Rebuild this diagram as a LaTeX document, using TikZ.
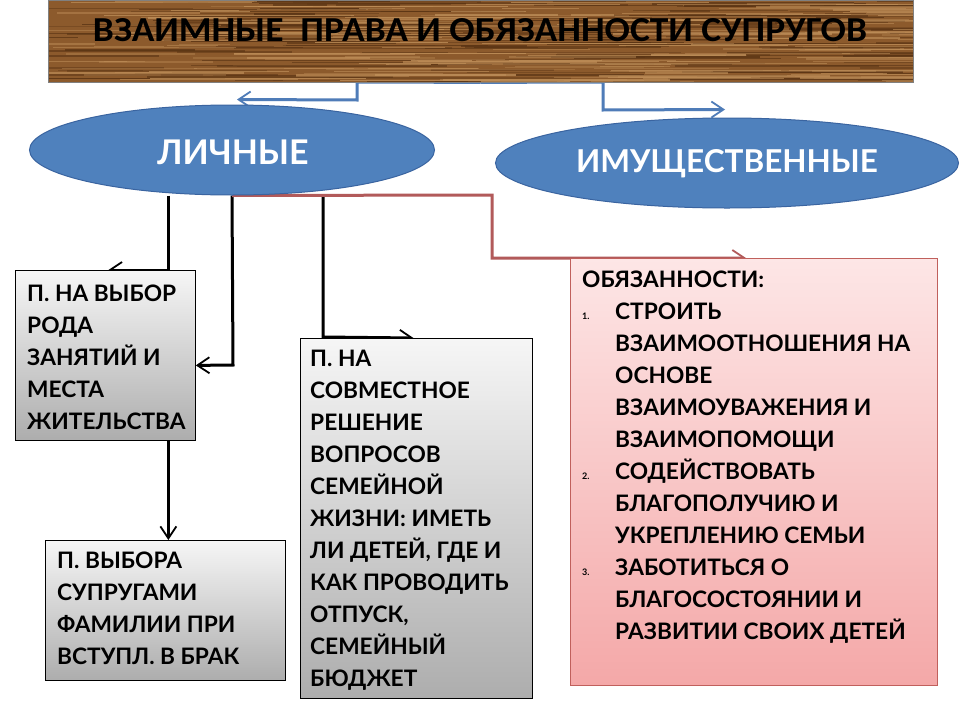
\documentclass[tikz,border=0pt]{standalone}
\usepackage{fontspec}
\setmainfont{Lato}
\usetikzlibrary{arrows.meta,shapes.geometric,calc}
\pgfdeclarelayer{bg}
\pgfsetlayers{bg,main}
\definecolor{woodbase}{HTML}{8C5A2C}
\definecolor{wooddark}{HTML}{5A3414}
\definecolor{woodlight}{HTML}{C0905A}
\definecolor{ellfill}{HTML}{4F81BD}
\definecolor{elldraw}{HTML}{3A64A0}
\definecolor{blueln}{HTML}{4F7CB8}
\definecolor{redln}{HTML}{B25A5A}
\definecolor{pinktop}{HTML}{FDE6E6}
\definecolor{pinkbot}{HTML}{F4A8A8}
\definecolor{pinkdraw}{HTML}{C0605C}
\definecolor{graytop}{HTML}{F6F6F6}
\definecolor{graybot}{HTML}{ADADAD}
\tikzset{
  boxfont/.style={font=\fontsize{22.7}{32}\selectfont\bfseries},
  graybox/.style={draw=black, line width=0.8pt, top color=graytop, bottom color=graybot, anchor=north west, inner sep=0pt},
  pinkbox/.style={draw=pinkdraw, line width=0.8pt, top color=pinktop, bottom color=pinkbot, anchor=north west, inner sep=0pt},
  boxtext/.style={boxfont, anchor=north west, inner sep=0pt, align=left},
  ell/.style={ellipse, fill=ellfill, draw=elldraw, line width=1pt, inner sep=0pt},
  elltext/.style={text=white, inner sep=0pt},
  tip/.style={-{Straight Barb[length=12pt,width=16pt,line width=1.8pt]}},
  blk/.style={draw=black, line width=3pt, tip},
  blu/.style={draw=blueln, line width=3pt, tip},
  rdl/.style={draw=redln, line width=3pt, tip}
}
\newcommand{\strt}{\rule{0pt}{21pt}}
\newcommand{\num}[1]{\makebox[33pt][l]{\fontsize{9}{9}\selectfont #1}}
\begin{document}
\begin{tikzpicture}[x=1pt,y=-1pt]
\useasboundingbox (0,0) rectangle (960,720);
\begin{pgfonlayer}{bg}
\fill[white] (0,0) rectangle (960,720);
\end{pgfonlayer}

% title banner
\node[draw=none, fill=woodbase, minimum width=865pt, minimum height=82pt, inner sep=0pt, anchor=north west] (title) at (48,0) {};
\begin{scope}
\clip (48,0) rectangle (913,82);
\pgfmathsetseed{11}
\foreach \i in {1,...,200}{
  \pgfmathsetmacro\yy{rnd*82}
  \pgfmathsetmacro\xx{20+rnd*880}
  \pgfmathsetmacro\ll{40+rnd*220}
  \pgfmathsetmacro\ww{0.5+rnd*1.6}
  \pgfmathsetmacro\oo{0.35+rnd*0.5}
  \draw[wooddark, line width=\ww pt, opacity=\oo] (\xx,\yy) -- ++(\ll,0);
}
\foreach \i in {1,...,180}{
  \pgfmathsetmacro\yy{rnd*82}
  \pgfmathsetmacro\xx{20+rnd*880}
  \pgfmathsetmacro\ll{40+rnd*220}
  \pgfmathsetmacro\ww{0.5+rnd*1.4}
  \pgfmathsetmacro\oo{0.3+rnd*0.5}
  \draw[woodlight, line width=\ww pt, opacity=\oo] (\xx,\yy) -- ++(\ll,0);
}
\end{scope}
\draw[gray, line width=1pt] (48,0) rectangle (913,82);
\node[inner sep=0pt, anchor=north] (titletext) at (480,18) {\resizebox{774pt}{23pt}{\fontspec{Carlito}\bfseries ВЗАИМНЫЕ\ \ ПРАВА И ОБЯЗАННОСТИ СУПРУГОВ}};

% ellipses
\node[ell, minimum width=405pt, minimum height=90pt] (lich) at (232,150) {};
\node[elltext, font=\fontsize{34}{36}\selectfont\bfseries] (lichtext) at (233,152) {ЛИЧНЫЕ};
\node[ell, minimum width=463pt, minimum height=90pt] (imush) at (727,163) {};
\node[elltext, font=\fontsize{31.5}{33}\selectfont\bfseries] (imushtext) at (727,164) {ИМУЩЕСТВЕННЫЕ};

% boxes
\node[graybox, minimum width=180pt, minimum height=170pt] (b1) at (15,270) {};
\node[boxtext] (t1) at (27,280) {\strt П. НА ВЫБОР\\РОДА\\ЗАНЯТИЙ И\\МЕСТА\\ЖИТЕЛЬСТВА};

\node[graybox, minimum width=240pt, minimum height=140pt] (b2) at (45,540) {};
\node[boxtext] (t2) at (57,547) {\strt П. ВЫБОРА\\СУПРУГАМИ\\ФАМИЛИИ ПРИ\\ВСТУПЛ. В БРАК};

\node[graybox, minimum width=232pt, minimum height=360pt] (b3) at (300,338) {};
\node[boxtext] (t3) at (310,345) {\strt П. НА\\СОВМЕСТНОЕ\\РЕШЕНИЕ\\ВОПРОСОВ\\СЕМЕЙНОЙ\\ЖИЗНИ: ИМЕТЬ\\ЛИ ДЕТЕЙ, ГДЕ И\\КАК ПРОВОДИТЬ\\ОТПУСК,\\СЕМЕЙНЫЙ\\БЮДЖЕТ};

\node[pinkbox, minimum width=367pt, minimum height=427pt] (b4) at (570,258) {};
\node[boxtext] (t4) at (582,266) {\strt ОБЯЗАННОСТИ:\\
\num{1.}СТРОИТЬ\\
\hspace*{33pt}ВЗАИМООТНОШЕНИЯ НА\\
\hspace*{33pt}ОСНОВЕ\\
\hspace*{33pt}ВЗАИМОУВАЖЕНИЯ И\\
\hspace*{33pt}ВЗАИМОПОМОЩИ\\
\num{2.}СОДЕЙСТВОВАТЬ\\
\hspace*{33pt}БЛАГОПОЛУЧИЮ И\\
\hspace*{33pt}УКРЕПЛЕНИЮ СЕМЬИ\\
\num{3.}ЗАБОТИТЬСЯ О\\
\hspace*{33pt}БЛАГОСОСТОЯНИИ И\\
\hspace*{33pt}РАЗВИТИИ СВОИХ ДЕТЕЙ};

\begin{pgfonlayer}{bg}
% blue connectors
\draw[blu] (title.south) -- (357,82) -- (357,100) -- ($(lich.north)+(5,-5)$);
\draw[blu] (title.south) -- (603,82) -- (603,110) -- ($(imush.north)+(-2,-8)$);
% black connectors
\draw[blk] ($(lich.south)+(-64,0)$) -- (168,270) -- ($(b1.north)+(3,0)$);
\draw[blk] (lich.south) -- (233,365) -- ($(b1.east)+(0,10)$);
\draw[blk] ($(b1.south)+(63,0)$) -- ($(b2.north)+(3,0)$);
\draw[blk] ($(lich.south)+(91,0)$) -- (323,337) -- ($(b3.north)+(-3,0)$);
% red connector
\draw[rdl] (lich.south) -- (492,195) -- (492,258) -- ($(b4.north)+(-8,0)$);
\end{pgfonlayer}
\end{tikzpicture}
\end{document}
